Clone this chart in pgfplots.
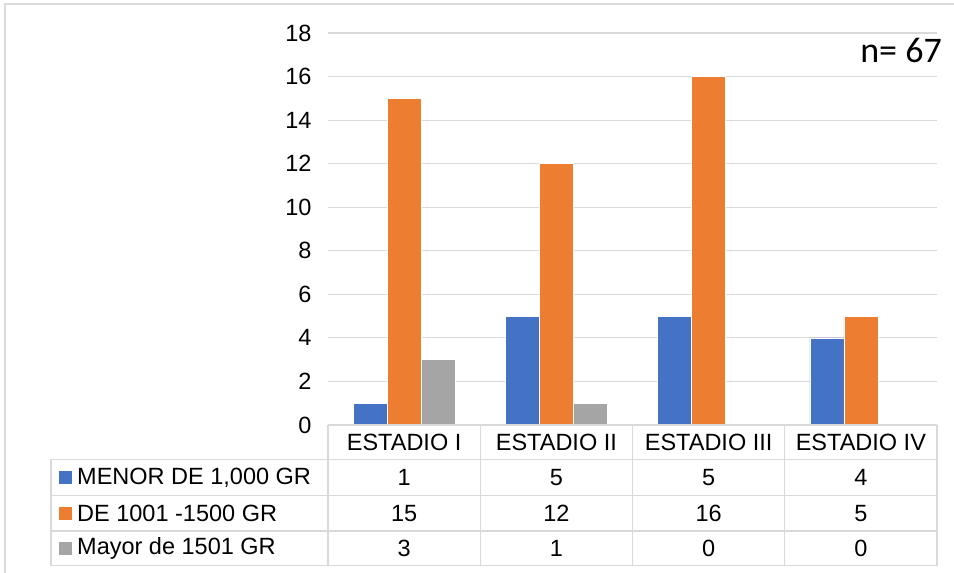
\documentclass[border=0pt]{standalone}
\usepackage{pgfplots}
\usepackage{pgfplotstable}
\pgfplotsset{compat=1.18}
\usepackage{fontspec}
\setmainfont{Liberation Sans}
\newfontfamily\calibri{Carlito}

\definecolor{cblue}{HTML}{4472C4}
\definecolor{corange}{HTML}{ED7D31}
\definecolor{cgrey}{HTML}{A5A5A5}
\definecolor{gridgrey}{HTML}{D9D9D9}

% Recuento por estadio y grupo de peso
\pgfplotstableread{
cat a  b  c
0   1  15 3
1   5  12 1
2   5  16 0
3   4  5  0
}\datos

\newcommand{\tfont}{\fontsize{23.5}{28}\selectfont}

\begin{document}
\begin{tikzpicture}[x=1pt,y=1pt]
\begin{axis}[
  at={(0,0)}, anchor=south west,
  scale only axis,
  width=609pt, height=392pt,
  xmin=-0.5, xmax=3.5,
  ymin=0, ymax=18,
  ytick={0,2,...,18},
  xtick=\empty,
  ymajorgrids,
  grid style={gridgrey, line width=1.2pt},
  axis line style={draw=none},
  major tick length=0pt,
  tick label style={font=\tfont, black},
  /pgf/number format/assume math mode=true,
  y tick label style={xshift=-13pt},
  ybar=0pt,
  bar width=34pt,
  clip=false,
]
\addplot[fill=cblue, draw=white, line width=0.6pt] table[x=cat, y=a] {\datos};
\addplot[fill=corange, draw=white, line width=0.6pt] table[x=cat, y=b] {\datos};
\addplot[fill=cgrey, draw=white, line width=0.6pt] table[x=cat, y=c] {\datos};
\end{axis}

% marco del área del gráfico
\draw[gridgrey, line width=1.2pt] (-323,-148) -- (-323,421) -- (626,421);

% tabla de datos
\begin{scope}[gridgrey, line width=1.2pt]
  \draw (0,0) -- (609,0);
  \foreach \yy in {-34.3,-70.7,-106,-140.7} \draw (-277,\yy) -- (609,\yy);
  \draw (-277,-34.3) -- (-277,-140.7);
  \foreach \k in {0,...,4} \draw ({152.25*\k},0) -- ({152.25*\k},-140.7);
\end{scope}

\foreach \name [count=\i from 0] in {ESTADIO I,ESTADIO II,ESTADIO III,ESTADIO IV}
  \node[font=\tfont, anchor=center] at ({76.125+152.25*\i},-17.2) {\name};

\foreach \r in {0,...,3}{
  \pgfplotstablegetelem{\r}{a}\of\datos
  \node[font=\tfont] at ({76.125+152.25*\r},-52.5) {\pgfplotsretval};
  \pgfplotstablegetelem{\r}{b}\of\datos
  \node[font=\tfont] at ({76.125+152.25*\r},-88.4) {\pgfplotsretval};
  \pgfplotstablegetelem{\r}{c}\of\datos
  \node[font=\tfont] at ({76.125+152.25*\r},-123.4) {\pgfplotsretval};
}

% leyenda de filas
\fill[cblue]   (-269,-59) rectangle ++(13,13);
\fill[corange] (-269,-95) rectangle ++(13,13);
\fill[cgrey]   (-269,-130) rectangle ++(13,13);
\node[font=\tfont, anchor=west, inner sep=0pt] at (-251,-52.5) {MENOR DE 1,000 GR};
\node[font=\tfont, anchor=west, inner sep=0pt] at (-251,-88.4) {DE 1001 -1500 GR};
\node[font=\tfont, anchor=west, inner sep=0pt] at (-251,-123.4) {Mayor de 1501 GR};

\node[font=\calibri\fontsize{36}{40}\selectfont, anchor=base east, inner sep=0pt] at (614,362) {n= 67};

\pgfresetboundingbox
\useasboundingbox (-328,-148) rectangle (626,425);
\end{tikzpicture}
\end{document}
